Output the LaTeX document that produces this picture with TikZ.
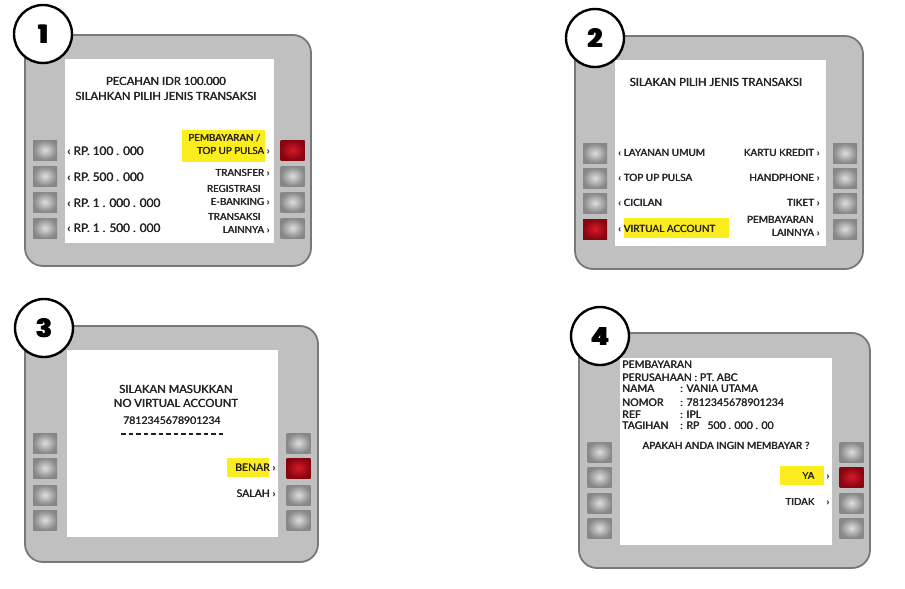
\documentclass[tikz,border=0pt]{standalone}
\usepackage{fontspec}
\setmainfont{Lato}
\newfontfamily\numfont{Poppins}
% text set twice with a small shift, for a medium stroke weight
\newcommand\heavy[1]{\leavevmode\rlap{#1}\kern0.45pt\relax#1}
\newcommand\heavydigit[1]{\leavevmode\rlap{#1}\rlap{\kern0.7pt#1}\rlap{\kern1.4pt#1}\kern2.1pt\relax#1}
\definecolor{panelgray}{RGB}{192,192,192}
\definecolor{paneledge}{RGB}{120,120,120}
\definecolor{keylight}{RGB}{222,222,222}
\definecolor{keydark}{RGB}{135,135,135}
\definecolor{redlight}{RGB}{215,25,40}
\definecolor{reddark}{RGB}{135,5,15}
\definecolor{marker}{RGB}{252,238,30}
\definecolor{ink}{RGB}{35,31,32}
\tikzset{
  panel/.style={draw=paneledge, line width=1.8pt, fill=panelgray, rounded corners=18pt, inner sep=0},
  screen/.style={fill=white, inner sep=0},
  key/.style={minimum width=24pt, minimum height=20pt, inner sep=0, inner color=keylight, outer color=keydark},
  redkey/.style={key, inner color=redlight, outer color=reddark},
  badge/.style={circle, draw=black, line width=2.4pt, fill=white, minimum size=58pt, inner sep=0,
    font=\numfont\bfseries\fontsize{25}{25}\selectfont},
  lbl/.style={inner sep=0, text=ink},
  title/.style={lbl, font=\fontsize{11.3}{11.3}\selectfont},
  big/.style={lbl, font=\fontsize{11.8}{11.8}\selectfont},
  small/.style={lbl, font=\fontsize{9.8}{9.8}\selectfont},
  small2/.style={lbl, font=\fontsize{10}{10}\selectfont},
  info/.style={lbl, font=\fontsize{10.5}{10.5}\selectfont},
}
\begin{document}
\begin{tikzpicture}[x=1pt, y=-1pt]
\useasboundingbox (0,0) rectangle (905,589);

% ---------- step 1 ----------
\node[panel, minimum width=286pt, minimum height=231pt] (p1) at (168,150.5) {};
\node[screen, minimum width=209pt, minimum height=184pt] (s1) at (169.5,151) {};
\node[key] (p1l1) at (45,150) {};
\node[key] (p1l2) at (45,176) {};
\node[key] (p1l3) at (45,202) {};
\node[key] (p1l4) at (45,228) {};
\node[redkey] (p1r1) at (292.5,150) {};
\node[key] (p1r2) at (292.5,176) {};
\node[key] (p1r3) at (292.5,202) {};
\node[key] (p1r4) at (292.5,228) {};
\fill[marker] (182,130) rectangle (265,162);
\node[title] (t1a) at (166,81) {\heavy{PECAHAN IDR 100.000}};
\node[title] (t1b) at (166,96) {\heavy{SILAHKAN PILIH JENIS TRANSAKSI}};
\node[big, anchor=west] (o1a) at (67,151) {\heavy{‹ RP. 100 . 000}};
\node[big, anchor=west] (o1b) at (67,177) {\heavy{‹ RP. 500 . 000}};
\node[big, anchor=west] (o1c) at (67,203) {\heavy{‹ RP. 1 . 000 . 000}};
\node[big, anchor=west] (o1d) at (67,228) {\heavy{‹ RP. 1 . 500 . 000}};
\node[small, anchor=east] (o1e) at (261,138) {\heavy{PEMBAYARAN /}};
\node[small, anchor=east] (o1f) at (270,151) {\heavy{TOP UP PULSA ›}};
\node[small, anchor=east] (o1g) at (270,173) {\heavy{TRANSFER ›}};
\node[small, anchor=east] (o1h) at (261,189) {\heavy{REGISTRASI}};
\node[small, anchor=east] (o1i) at (270,202) {\heavy{E-BANKING ›}};
\node[small, anchor=east] (o1j) at (261,217) {\heavy{TRANSAKSI}};
\node[small, anchor=east] (o1k) at (270,230) {\heavy{LAINNYA ›}};
\node[badge] (b1) at (43,34) {\heavydigit{1}};

% ---------- step 2 ----------
\node[panel, minimum width=288pt, minimum height=233pt] (p2) at (719,152.5) {};
\node[screen, minimum width=211pt, minimum height=186pt] (s2) at (720.5,153) {};
\node[key] (p2l1) at (595,153) {};
\node[key] (p2l2) at (595,178) {};
\node[key] (p2l3) at (595,203) {};
\node[redkey] (p2l4) at (595,229) {};
\node[key] (p2r1) at (845,153) {};
\node[key] (p2r2) at (845,178) {};
\node[key] (p2r3) at (845,203) {};
\node[key] (p2r4) at (845,229) {};
\fill[marker] (624,218) rectangle (729,238);
\node[title] (t2a) at (716,82) {\heavy{SILAKAN PILIH JENIS TRANSAKSI}};
\node[small2, anchor=west] (o2a) at (618,153) {\heavy{‹ LAYANAN UMUM}};
\node[small2, anchor=west] (o2b) at (618,178) {\heavy{‹ TOP UP PULSA}};
\node[small2, anchor=west] (o2c) at (618,203) {\heavy{‹ CICILAN}};
\node[small2, anchor=west] (o2d) at (618,229) {\heavy{‹ VIRTUAL ACCOUNT}};
\node[small2, anchor=east] (o2e) at (820,153) {\heavy{KARTU KREDIT ›}};
\node[small2, anchor=east] (o2f) at (820,178) {\heavy{HANDPHONE ›}};
\node[small2, anchor=east] (o2g) at (820,203) {\heavy{TIKET ›}};
\node[small2, anchor=east] (o2h) at (814,220) {\heavy{PEMBAYARAN}};
\node[small2, anchor=east] (o2i) at (820,233) {\heavy{LAINNYA ›}};
\node[badge] (b2) at (595,38) {\heavydigit{2}};

% ---------- step 3 ----------
\node[panel, minimum width=293pt, minimum height=236pt] (p3) at (171.5,444) {};
\node[screen, minimum width=211pt, minimum height=187pt] (s3) at (172.5,443.5) {};
\node[key] (p3l1) at (45,443) {};
\node[key] (p3l2) at (45,468) {};
\node[key] (p3l3) at (45,495) {};
\node[key] (p3l4) at (45,520) {};
\node[key] (p3r1) at (298.5,443) {};
\node[redkey] (p3r2) at (298.5,468) {};
\node[key] (p3r3) at (298.5,495) {};
\node[key] (p3r4) at (298.5,520) {};
\fill[marker] (227,458) rectangle (269,477);
\node[title] (t3a) at (176,389) {\heavy{SILAKAN MASUKKAN}};
\node[title] (t3b) at (176,403) {\heavy{NO VIRTUAL ACCOUNT}};
\node[info] (t3c) at (172,421) {\heavy{7812345678901234}};
\coordinate (d3a) at (121,434);
\coordinate (d3b) at (226,434);
\draw[ink, line width=2pt, dash pattern=on 4.5pt off 3pt] (d3a) -- (d3b);
\node[lbl, font=\fontsize{10.5}{10.5}\selectfont, anchor=east] (o3a) at (276,468) {\heavy{BENAR ›}};
\node[lbl, font=\fontsize{10.5}{10.5}\selectfont, anchor=east] (o3b) at (276,494) {\heavy{SALAH ›}};
\node[badge] (b3) at (44,328) {\heavydigit{3}};

% ---------- step 4 ----------
\node[panel, minimum width=291pt, minimum height=235pt] (p4) at (724.5,450.5) {};
\node[screen, minimum width=212pt, minimum height=187pt] (s4) at (726,451.5) {};
\node[key] (p4l1) at (599.5,452) {};
\node[key] (p4l2) at (599.5,477) {};
\node[key] (p4l3) at (599.5,503) {};
\node[key] (p4l4) at (599.5,528) {};
\node[key] (p4r1) at (851.5,452) {};
\node[redkey] (p4r2) at (851.5,477) {};
\node[key] (p4r3) at (851.5,503) {};
\node[key] (p4r4) at (851.5,528) {};
\fill[marker] (780,466) rectangle (824,485);
\node[info, anchor=west] (i4a) at (622,365) {\heavy{PEMBAYARAN}};
\node[info, anchor=west] (i4b) at (622,378) {\heavy{PERUSAHAAN : PT. ABC}};
\node[info, anchor=west] (i4c) at (622,389) {\heavy{NAMA}};
\node[info, anchor=west] (v4c) at (680,389) {\heavy{: VANIA UTAMA}};
\node[info, anchor=west] (i4d) at (622,403) {\heavy{NOMOR}};
\node[info, anchor=west] (v4d) at (680,403) {\heavy{: 7812345678901234}};
\node[info, anchor=west] (i4e) at (622,415) {\heavy{REF}};
\node[info, anchor=west] (v4e) at (680,415) {\heavy{: IPL}};
\node[info, anchor=west] (i4f) at (622,426) {\heavy{TAGIHAN}};
\node[info, anchor=west] (v4f) at (680,426) {\heavy{: RP \ \ 500 . 000 . 00}};
\node[small2] (q4) at (726,446) {\heavy{APAKAH ANDA INGIN MEMBAYAR ?}};
\node[small, anchor=east] (o4a) at (815,476) {\heavy{YA}};
\node[small] (o4aa) at (828,477) {\heavy{›}};
\node[small, anchor=east] (o4b) at (815,502) {\heavy{TIDAK}};
\node[small] (o4bb) at (828,503) {\heavy{›}};
\node[badge] (b4) at (600,336) {\heavydigit{4}};
\end{tikzpicture}
\end{document}
